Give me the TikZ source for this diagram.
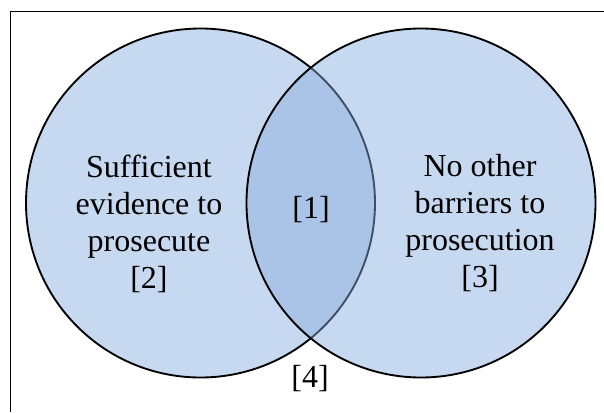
\documentclass[tikz,border=0pt]{standalone}
\usepackage{fontspec}
\setmainfont{Liberation Serif}
\newfontfamily\timesfont{Liberation Serif}
\definecolor{setfill}{HTML}{C6D9F0}
\definecolor{overlapfill}{HTML}{A9C4E6}
\definecolor{innerline}{HTML}{3E4E63}
\begin{document}
\begin{tikzpicture}[x=0.75pt,y=-0.75pt,
  outline/.style={draw=black,line width=1.4pt},
  innerarc/.style={draw=innerline,line width=1.4pt},
  frameline/.style={draw=black,line width=1.3pt},
  label/.style={align=center,inner sep=0pt,font=\timesfont\fontsize{24}{27.75}\selectfont}]
\useasboundingbox (0,0) rectangle (604,412);
\def\rad{174.5}
\coordinate (lc) at (200.5,203);
\coordinate (rc) at (421,203);
\coordinate (fb) at (10.5,412);
\coordinate (ft) at (10.5,11.5);
\coordinate (fr) at (604,11.5);
% frame
\draw[frameline] (fb) -- (ft) -- (fr);
% fills
\fill[setfill] (lc) circle[radius=\rad];
\fill[setfill] (rc) circle[radius=\rad];
\begin{scope}
  \clip (lc) circle[radius=\rad];
  \fill[overlapfill] (rc) circle[radius=\rad];
\end{scope}
% left outline inside right circle (grey)
\begin{scope}
  \clip (rc) circle[radius=\rad];
  \path[innerarc] (lc) circle[radius=\rad];
\end{scope}
% left outline outside right circle (black)
\begin{scope}[even odd rule]
  \clip (-20,-20) rectangle (640,440) (rc) circle[radius=\rad];
  \path[outline] (lc) circle[radius=\rad];
\end{scope}
\path[outline] (rc) circle[radius=\rad];
% labels
\node[label] (two) at (149,224) {Sufficient\\evidence to\\prosecute\\[0pt][2]};
\node[label] (three) at (480,223) {No other\\barriers to\\prosecution\\[0pt][3]};
\node[label] (one) at (311,209.5) {[1]};
\node[label] (four) at (310,378.5) {[4]};
\end{tikzpicture}
\end{document}
